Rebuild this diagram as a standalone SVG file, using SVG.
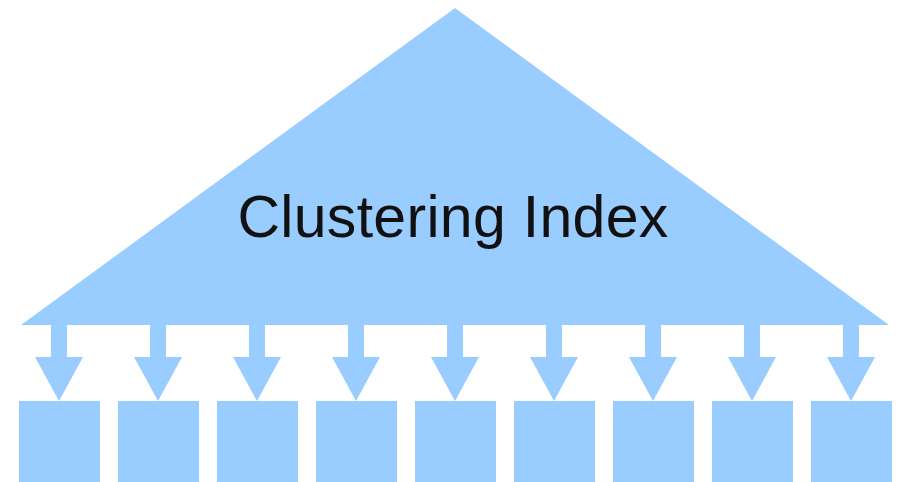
<svg xmlns="http://www.w3.org/2000/svg" width="904" height="482" viewBox="0 0 904 482">
  <style>
    .shape { fill: #99ccff; }
    .label { font-family: "Liberation Sans", Arial, sans-serif; font-size: 59px; fill: #111111; }
  </style>
  <defs>
    <!-- block arrow pointing down, tip at (0,0) -->
    <path id="down-arrow" d="M -8,-77 L 8,-77 L 8,-44 L 24,-44 L 0,0 L -24,-44 L -8,-44 Z"/>
  </defs>
  <rect width="904" height="482" fill="#ffffff"/>

  <g id="index">
    <polygon class="shape" points="455,8 21,325 889,325"/>
    <text class="label" x="453" y="237" text-anchor="middle" letter-spacing="0.3">Clustering Index</text>
  </g>

  <g id="connectors" class="shape">
    <use href="#down-arrow" x="59" y="401"/>
    <use href="#down-arrow" x="158" y="401"/>
    <use href="#down-arrow" x="257" y="401"/>
    <use href="#down-arrow" x="356" y="401"/>
    <use href="#down-arrow" x="455" y="401"/>
    <use href="#down-arrow" x="554" y="401"/>
    <use href="#down-arrow" x="653" y="401"/>
    <use href="#down-arrow" x="752" y="401"/>
    <use href="#down-arrow" x="851" y="401"/>
  </g>

  <g id="block-1"><rect class="shape" x="19" y="401" width="81" height="90"/></g>
  <g id="block-2"><rect class="shape" x="118" y="401" width="81" height="90"/></g>
  <g id="block-3"><rect class="shape" x="217" y="401" width="81" height="90"/></g>
  <g id="block-4"><rect class="shape" x="316" y="401" width="81" height="90"/></g>
  <g id="block-5"><rect class="shape" x="415" y="401" width="81" height="90"/></g>
  <g id="block-6"><rect class="shape" x="514" y="401" width="81" height="90"/></g>
  <g id="block-7"><rect class="shape" x="613" y="401" width="81" height="90"/></g>
  <g id="block-8"><rect class="shape" x="712" y="401" width="81" height="90"/></g>
  <g id="block-9"><rect class="shape" x="811" y="401" width="81" height="90"/></g>
</svg>
